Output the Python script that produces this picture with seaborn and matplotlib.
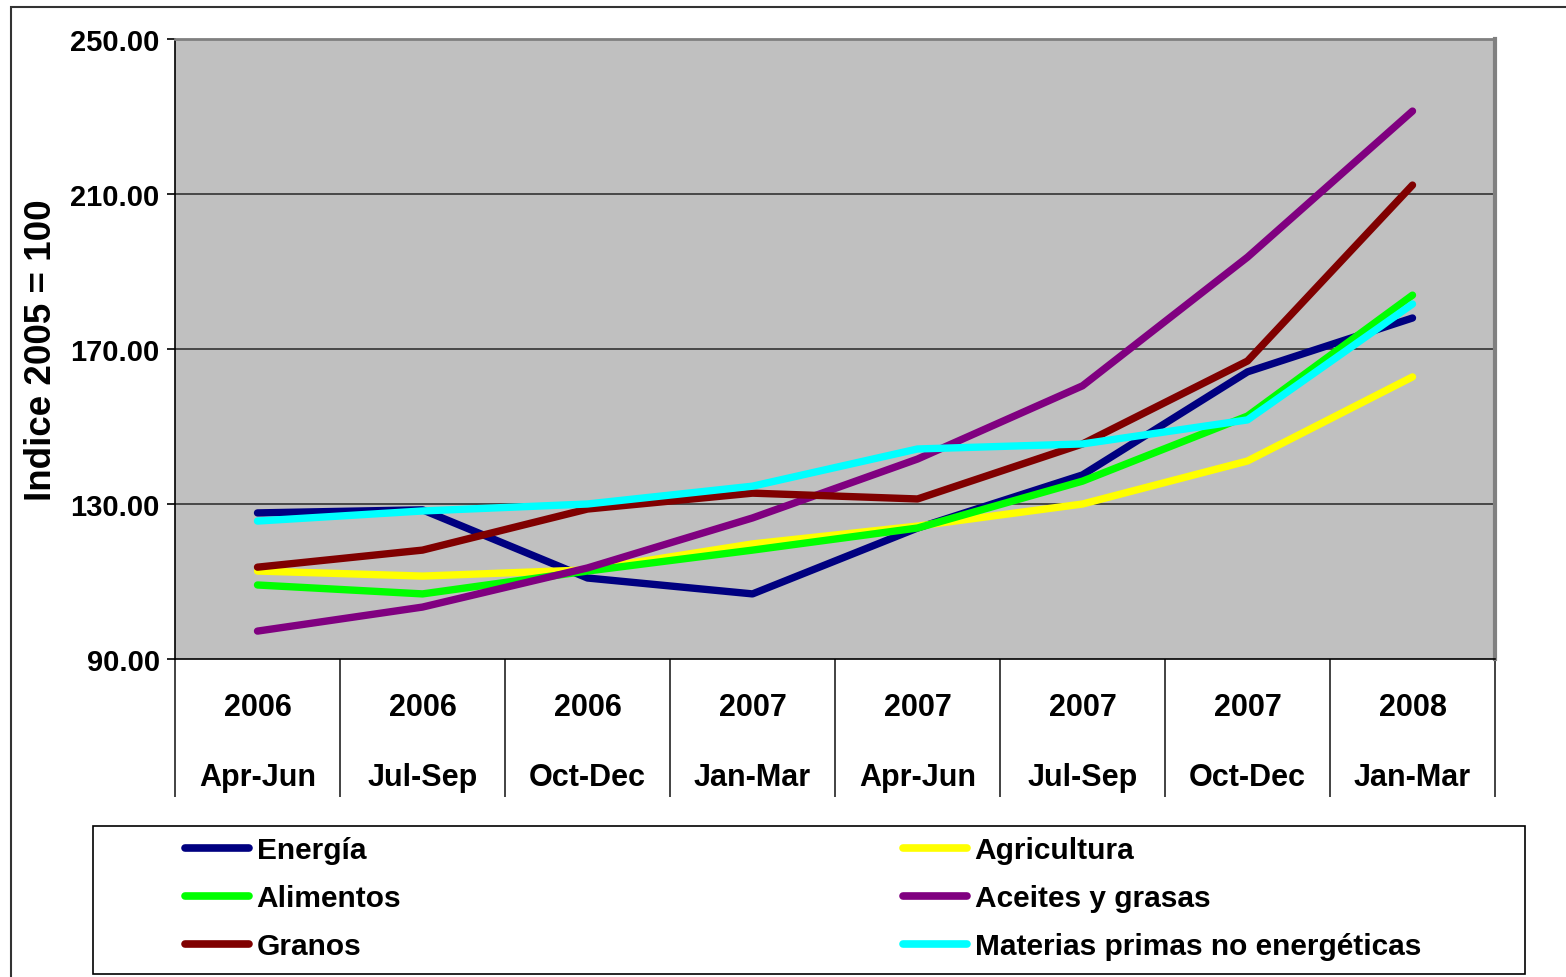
import numpy as np
import pandas as pd
import seaborn as sns
import matplotlib
matplotlib.use("Agg")
import matplotlib.pyplot as plt
from matplotlib.patches import Rectangle

# ---- data ----
years = ["2006", "2006", "2006", "2007", "2007", "2007", "2007", "2008"]
quarters = ["Apr-Jun", "Jul-Sep", "Oct-Dec", "Jan-Mar", "Apr-Jun", "Jul-Sep", "Oct-Dec", "Jan-Mar"]

energia = [127.7, 128.5, 110.9, 106.8, 123.8, 137.5, 164.1, 178.0]
agricultura = [112.7, 111.4, 113.0, 119.7, 124.3, 130.0, 141.1, 162.8]
alimentos = [109.1, 106.8, 112.7, 118.1, 123.8, 135.9, 152.7, 183.9]
aceites = [97.2, 103.4, 113.5, 126.4, 141.6, 160.5, 193.7, 231.4]
granos = [113.7, 118.1, 128.7, 132.8, 131.3, 145.5, 166.9, 212.3]
materias = [125.6, 128.2, 130.0, 134.6, 144.2, 145.5, 151.7, 181.6]

series_names = ["Energía", "Agricultura", "Alimentos", "Aceites y grasas", "Granos",
                "Materias primas no energéticas"]
series_values = [energia, agricultura, alimentos, aceites, granos, materias]
colors = ["#000080", "#FFFF00", "#00FF00", "#800080", "#800000", "#00FFFF"]

yticks = [90, 130, 170, 210, 250]

rows = []
for name, vals in zip(series_names, series_values):
    for i, v in enumerate(vals):
        rows.append({"idx": i, "valor": v, "serie": name})
df = pd.DataFrame(rows)

# ---- figure ----
sns.set_theme(style="white")
plt.rcParams["font.family"] = ["Liberation Sans", "DejaVu Sans"]
plt.rcParams["font.weight"] = "bold"
plt.rcParams["text.color"] = "black"
plt.rcParams["axes.labelcolor"] = "black"
plt.rcParams["xtick.color"] = "black"
plt.rcParams["ytick.color"] = "black"

W, H = 1566, 978
fig = plt.figure(figsize=(W / 100, H / 100), dpi=100)
ax = fig.add_axes([175 / W, 1 - 660 / H, (1495 - 175) / W, (660 - 40) / H])
ax.set_facecolor("#C0C0C0")

sns.lineplot(data=df, x="idx", y="valor", hue="serie", hue_order=series_names,
             palette=dict(zip(series_names, colors)), linewidth=5.3, sort=False,
             legend=False, ax=ax)
for ln in ax.lines:
    ln.set_solid_capstyle("round")
    ln.set_solid_joinstyle("round")

ax.set_xlim(-0.5, len(years) - 0.5)
ax.set_ylim(90, 250)
ax.set_yticks(yticks)
ax.set_yticklabels([f"{v:.2f}" for v in yticks], fontsize=21, fontweight="bold", color="black")
ax.tick_params(axis="y", direction="out", length=6, width=1.2, color="black", pad=5, left=True)

# gridlines
for v in yticks[1:-1]:
    ax.axhline(v, color="#333333", lw=1.2, zorder=1)

# x labels
ax.set_xticks(range(len(years)))
ax.set_xticklabels([f"{y}\n{q}" for y, q in zip(years, quarters)], fontsize=22,
                   fontweight="bold", linespacing=2.74, color="black")
ax.tick_params(axis="x", which="major", length=0, pad=24)
ax.set_xticks(np.arange(-0.5, len(years)), minor=True)
ax.tick_params(axis="x", which="minor", direction="out", length=138 * 0.72, width=1.2,
               color="#222222", bottom=True)

ax.set_xlabel("")
ax.set_ylabel("Indice 2005 = 100", fontsize=26.5, fontweight="bold", labelpad=8, color="black")

for s in ["left", "bottom"]:
    ax.spines[s].set_color("black")
    ax.spines[s].set_linewidth(1.2)
ax.spines["top"].set_color("#808080")
ax.spines["top"].set_linewidth(2)
ax.spines["right"].set_color("#808080")
ax.spines["right"].set_linewidth(3)

# legend
handles = ax.lines[:len(series_names)]
order1 = [0, 2, 4]
order2 = [1, 3, 5]
common = dict(frameon=False, handlelength=2.15, handletextpad=0.25,
              labelspacing=0.67, borderpad=0, borderaxespad=0, loc="upper left",
              prop={"weight": "bold", "size": 21.5})
leg1 = fig.legend([handles[i] for i in order1], [series_names[i] for i in order1],
                  bbox_to_anchor=(185 / W, 1 - 837 / H), **common)
leg2 = fig.legend([handles[i] for i in order2], [series_names[i] for i in order2],
                  bbox_to_anchor=(903 / W, 1 - 837 / H), **common)
for leg in (leg1, leg2):
    for lh in leg.get_lines():
        lh.set_linewidth(5.5)
        lh.set_solid_capstyle("round")
    for t in leg.get_texts():
        t.set_color("black")

fig.patches.append(Rectangle((93 / W, 1 - 975 / H), (1525 - 93) / W, (975 - 827) / H,
                             transform=fig.transFigure, fill=False, edgecolor="black",
                             linewidth=1.2))
fig.patches.append(Rectangle((11 / W, -0.05), 1.1, 1.05 - 8 / H,
                             transform=fig.transFigure, fill=False, edgecolor="#333333",
                             linewidth=1.5))

fig.savefig("out.png", dpi=100)
